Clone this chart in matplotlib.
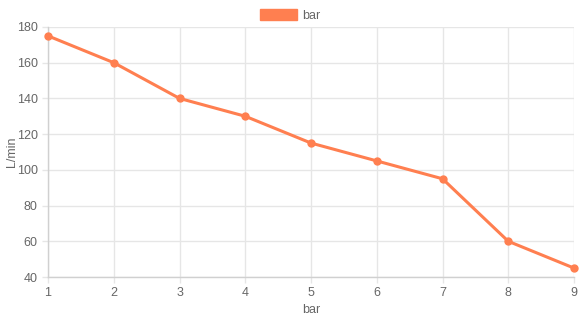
import matplotlib.pyplot as plt
from matplotlib.patches import Patch

plt.rcParams["font.family"] = ["Liberation Sans", "DejaVu Sans"]

# Дані графіка
pressure_bar = [1, 2, 3, 4, 5, 6, 7, 8, 9]
flow_lmin = [175, 160, 140, 130, 115, 105, 95, 60, 45]
series_name = "bar"
line_color = "#FF7F50"
text_color = "#666666"

fig = plt.figure(figsize=(5.8, 3.21), dpi=100)
ax = fig.add_axes([0.0828, 0.137, 0.9069, 0.779])

ax.plot(pressure_bar, flow_lmin, color=line_color, linewidth=2.2,
        marker="o", markersize=5, zorder=3, clip_on=False)

ax.set_xlim(1, 9)
ax.set_ylim(40, 180)
ax.set_xticks(pressure_bar)
ax.set_yticks(range(40, 181, 20))

ax.grid(True, color="#e6e6e6", linewidth=1)
ax.set_axisbelow(True)
for side in ["top", "right"]:
    ax.spines[side].set_visible(False)
for side in ["left", "bottom"]:
    ax.spines[side].set_color("#d0d0d0")
    ax.spines[side].set_linewidth(1)

ax.tick_params(axis="both", colors="#e6e6e6", labelcolor=text_color,
               labelsize=9, length=4.5, width=1, pad=3)

ax.set_xlabel("bar", color=text_color, fontsize=9, labelpad=3)
ax.set_ylabel("L/min", color=text_color, fontsize=9)
ax.yaxis.set_label_coords(-0.058, 0.5)

fig.legend(handles=[Patch(facecolor=line_color, edgecolor=line_color, label=series_name)],
           loc="upper center", bbox_to_anchor=(0.5, 1.0), frameon=False,
           fontsize=9, labelcolor=text_color, handlelength=3.0, handleheight=1.0,
           handletextpad=0.4, borderaxespad=0.3)

plt.savefig("out.png", dpi=100)
